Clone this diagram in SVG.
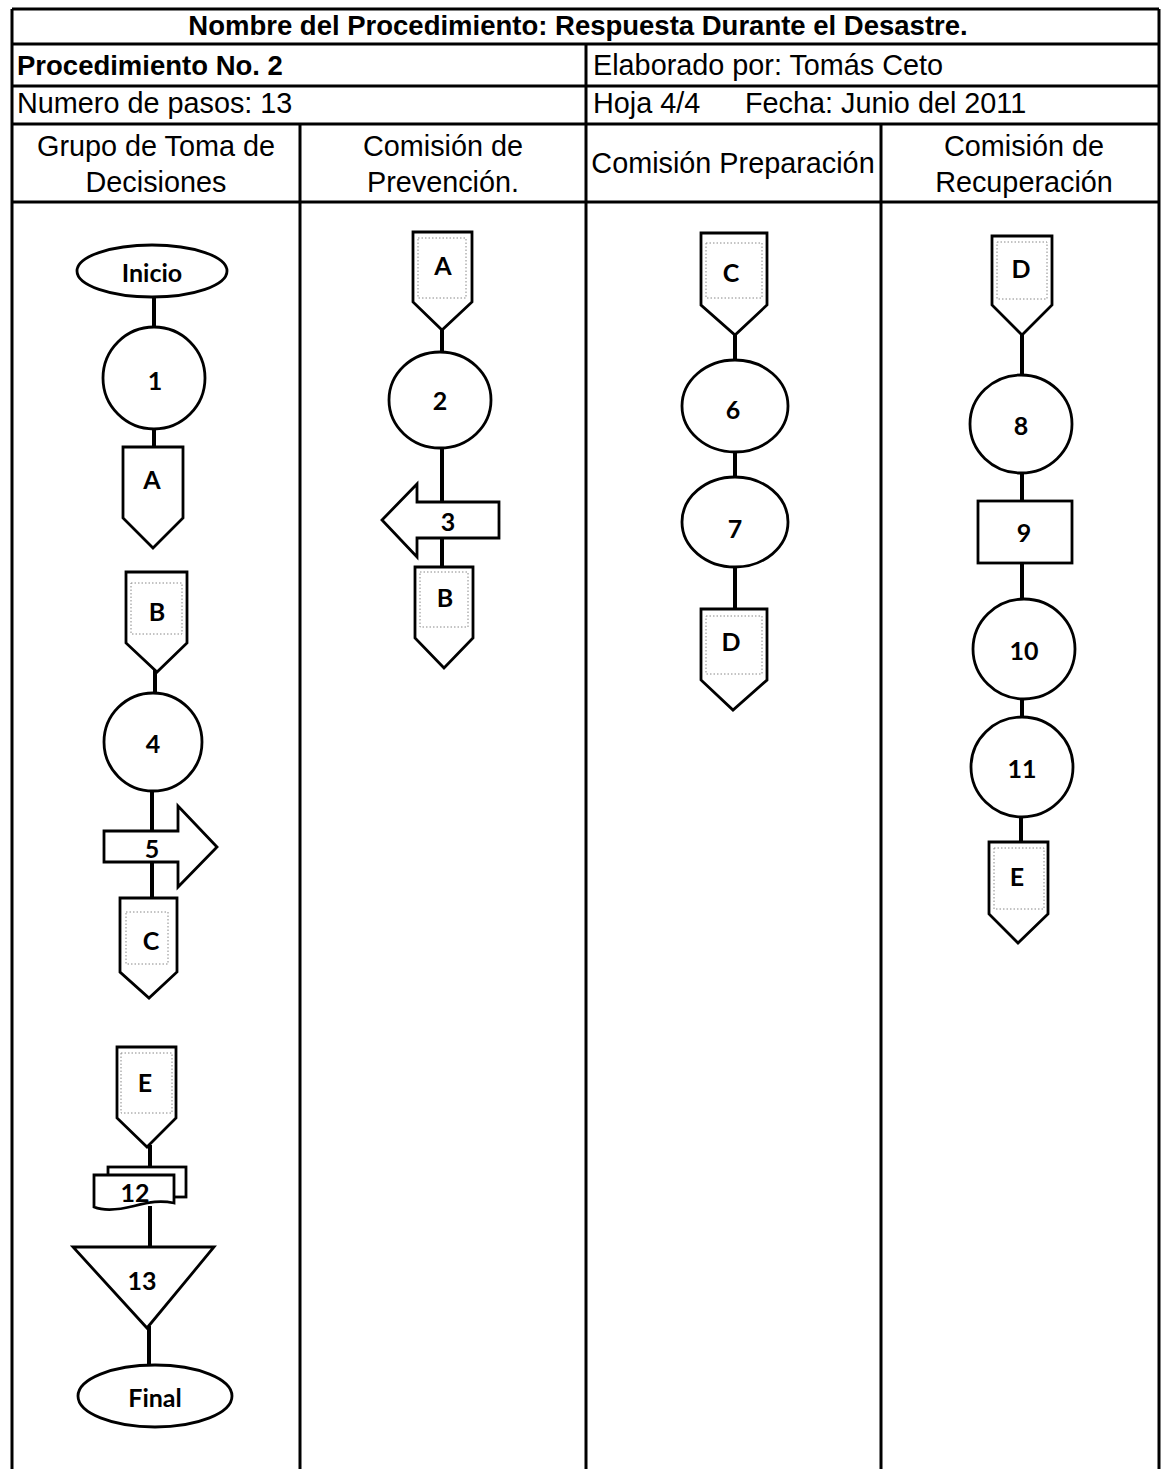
<svg xmlns="http://www.w3.org/2000/svg" width="1161" height="1469" viewBox="0 0 1161 1469">
<style>
.bg{fill:#fff}
.grid{stroke:#000;stroke-width:3;fill:none}
.h{font-family:"Liberation Sans",Arial,sans-serif;font-size:28.8px;fill:#000}
.hb{font-family:"Liberation Sans",Arial,sans-serif;font-size:27.5px;font-weight:bold;fill:#000}
.c{text-anchor:middle}
.shape{fill:#fff;stroke:#000;stroke-width:2.8}
.dot{fill:none;stroke:#888;stroke-width:1;stroke-dasharray:1.5 2}
.lbl{font-family:Lato,"Open Sans",sans-serif;font-weight:bold;font-size:25px;text-anchor:middle;dominant-baseline:central;fill:#000}
.conn line{stroke:#000;stroke-width:4}
</style>
<rect class="bg" x="0" y="0" width="1161" height="1469"/>
<g id="table">
<line class="grid" x1="12" y1="9" x2="1159" y2="9"/>
<line class="grid" x1="12" y1="44" x2="1159" y2="44"/>
<line class="grid" x1="12" y1="86" x2="1159" y2="86"/>
<line class="grid" x1="12" y1="124" x2="1159" y2="124"/>
<line class="grid" x1="12" y1="202" x2="1159" y2="202"/>
<line class="grid" x1="12" y1="9" x2="12" y2="1469"/>
<line class="grid" x1="1159" y1="9" x2="1159" y2="1469"/>
<line class="grid" x1="300" y1="124" x2="300" y2="1469"/>
<line class="grid" x1="586" y1="44" x2="586" y2="1469"/>
<line class="grid" x1="881" y1="124" x2="881" y2="1469"/>
<text class="hb c" x="578" y="35">Nombre del Procedimiento: Respuesta Durante el Desastre.</text>
<text class="hb" x="17" y="75">Procedimiento No. 2</text>
<text class="h" x="593" y="75">Elaborado por: Tomás Ceto</text>
<text class="h" x="17" y="113">Numero de pasos: 13</text>
<text class="h" x="593" y="113">Hoja 4/4</text>
<text class="h" x="745" y="113">Fecha: Junio del 2011</text>
<text class="h c" x="156" y="156">Grupo de Toma de</text>
<text class="h c" x="156" y="192">Decisiones</text>
<text class="h c" x="443" y="156">Comisión de</text>
<text class="h c" x="443" y="192">Prevención.</text>
<text class="h c" x="733" y="173">Comisión Preparación</text>
<text class="h c" x="1024" y="156">Comisión de</text>
<text class="h c" x="1024" y="192">Recuperación</text>
</g>
<g id="connectors" class="conn">
<line x1="154" y1="298" x2="154" y2="327"/>
<line x1="154" y1="429" x2="154" y2="447"/>
<line x1="155" y1="670" x2="155" y2="693"/>
<line x1="152" y1="791" x2="152" y2="831"/>
<line x1="152" y1="862" x2="152" y2="898"/>
<line x1="150" y1="1145" x2="150" y2="1167"/>
<line x1="150" y1="1206" x2="150" y2="1247"/>
<line x1="149" y1="1326" x2="149" y2="1365"/>
<line x1="442" y1="328" x2="442" y2="352"/>
<line x1="442" y1="448" x2="442" y2="502"/>
<line x1="442" y1="538" x2="442" y2="567"/>
<line x1="735" y1="333" x2="735" y2="360"/>
<line x1="735" y1="451" x2="735" y2="477"/>
<line x1="735" y1="567" x2="735" y2="609"/>
<line x1="1022" y1="333" x2="1022" y2="375"/>
<line x1="1022" y1="473" x2="1022" y2="501"/>
<line x1="1022" y1="563" x2="1022" y2="599"/>
<line x1="1022" y1="699" x2="1022" y2="717"/>
<line x1="1021" y1="817" x2="1021" y2="842"/>
</g>
<g id="n-inicio"><ellipse class="shape" cx="152" cy="271" rx="75" ry="26"/><text class="lbl" x="152" y="272">Inicio</text></g>
<g id="n-1"><circle class="shape" cx="154" cy="378" r="51"/><text class="lbl" x="155" y="380">1</text></g>
<g id="n-A1"><polygon class="shape" points="123,447 183,447 183,518 153,548 123,518"/><text class="lbl" x="152" y="479">A</text></g>
<g id="n-B1"><polygon class="shape" points="126,572 187,572 187,643 157,672 126,643"/><rect class="dot" x="131" y="583" width="51" height="51"/><text class="lbl" x="157" y="611">B</text></g>
<g id="n-4"><circle class="shape" cx="153" cy="742" r="49"/><text class="lbl" x="153" y="743">4</text></g>
<g id="n-5"><polygon class="shape" points="104,831 178,831 178,806 217,847 178,887 178,862 104,862"/><text class="lbl" x="152" y="848">5</text></g>
<g id="n-C1"><polygon class="shape" points="120,898 177,898 177,972 149,998 120,972"/><rect class="dot" x="126" y="912" width="42" height="52"/><text class="lbl" x="151" y="940">C</text></g>
<g id="n-E1"><polygon class="shape" points="117,1047 176,1047 176,1118 147,1147 117,1118"/><rect class="dot" x="121" y="1053" width="51" height="60"/><text class="lbl" x="145" y="1082">E</text></g>
<g id="n-12"><rect class="shape" x="108" y="1167" width="78" height="30"/><path class="shape" d="M94,1175 H174 V1203 C160,1200 150,1202 134,1206 C118,1210 104,1211 94,1207 Z"/><text class="lbl" x="135" y="1192">12</text></g>
<g id="n-13"><polygon class="shape" points="73,1247 214,1247 147,1328"/><text class="lbl" x="142" y="1280">13</text></g>
<g id="n-final"><ellipse class="shape" cx="155" cy="1396" rx="77" ry="31"/><text class="lbl" x="155" y="1397">Final</text></g>
<g id="n-A2"><polygon class="shape" points="413,232 472,232 472,302 442,330 413,302"/><rect class="dot" x="418" y="238" width="48" height="60"/><text class="lbl" x="443" y="265">A</text></g>
<g id="n-2"><ellipse class="shape" cx="440" cy="400" rx="51" ry="48"/><text class="lbl" x="440" y="400">2</text></g>
<g id="n-3"><polygon class="shape" points="499,502 417,502 417,484 382,520 417,557 417,538 499,538"/><text class="lbl" x="448" y="521">3</text></g>
<g id="n-B2"><polygon class="shape" points="415,567 473,567 473,638 444,668 415,638"/><rect class="dot" x="420" y="572" width="48" height="55"/><text class="lbl" x="445" y="597">B</text></g>
<g id="n-C3"><polygon class="shape" points="701,233 767,233 767,305 735,335 701,305"/><rect class="dot" x="706" y="243" width="56" height="55"/><text class="lbl" x="731" y="272">C</text></g>
<g id="n-6"><ellipse class="shape" cx="735" cy="406" rx="53" ry="46"/><text class="lbl" x="733" y="409">6</text></g>
<g id="n-7"><ellipse class="shape" cx="735" cy="522" rx="53" ry="45"/><text class="lbl" x="735" y="528">7</text></g>
<g id="n-D3"><polygon class="shape" points="701,609 767,609 767,680 733,710 701,680"/><rect class="dot" x="706" y="616" width="56" height="58"/><text class="lbl" x="731" y="641">D</text></g>
<g id="n-D4"><polygon class="shape" points="992,236 1052,236 1052,305 1022,335 992,305"/><rect class="dot" x="997" y="242" width="50" height="57"/><text class="lbl" x="1021" y="268">D</text></g>
<g id="n-8"><ellipse class="shape" cx="1021" cy="424" rx="51" ry="49"/><text class="lbl" x="1021" y="425">8</text></g>
<g id="n-9"><rect class="shape" x="978" y="501" width="94" height="62"/><text class="lbl" x="1024" y="532">9</text></g>
<g id="n-10"><ellipse class="shape" cx="1024" cy="649" rx="51" ry="50"/><text class="lbl" x="1024" y="650">10</text></g>
<g id="n-11"><ellipse class="shape" cx="1022" cy="767" rx="51" ry="50"/><text class="lbl" x="1022" y="768">11</text></g>
<g id="n-E4"><polygon class="shape" points="989,842 1048,842 1048,914 1018,943 989,914"/><rect class="dot" x="994" y="848" width="50" height="61"/><text class="lbl" x="1017" y="876">E</text></g>
</svg>
